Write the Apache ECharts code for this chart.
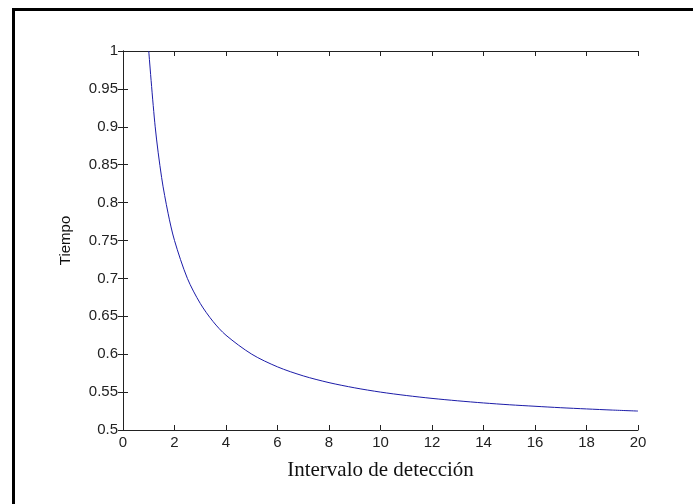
<!DOCTYPE html>
<html>
<head>
<meta charset="utf-8">
<script src="https://cdn.jsdelivr.net/npm/echarts@6/dist/echarts.min.js"></script>
<style>
    body { margin: 0; background: #fff; }
    #wrap { position: relative; width: 693px; height: 504px; }
    #chart { width: 693px; height: 504px; }
    #frame {
        position: absolute; left: 12px; top: 8px; right: 0; bottom: 0;
        border-left: 3px solid #000; border-top: 3px solid #000;
        pointer-events: none;
    }
</style>
</head>
<body>
<div id="wrap">
    <div id="chart"></div>
    <div id="frame"></div>
</div>
<script>
// 横轴：检测间隔
const intervalo = [1, 1.25, 1.5, 1.75, 2, 2.5, 3, 3.5, 4, 5, 6, 7, 8, 9, 10,
    11, 12, 13, 14, 15, 16, 17, 18, 19, 20];
// 纵轴：时间
const tiempo = [1.0, 0.90, 0.833, 0.786, 0.75, 0.70, 0.667, 0.643, 0.625, 0.60, 0.5833,
    0.5714, 0.5625, 0.5556, 0.55, 0.5455, 0.5417, 0.5385, 0.5357, 0.5333, 0.5313,
    0.5294, 0.5278, 0.5263, 0.525];

const xTitle = 'Intervalo de detección';
const yTitle = 'Tiempo';

const chart = echarts.init(document.getElementById('chart'));

const lineStyle = { color: '#222', width: 1 };
const labelFont = { fontFamily: 'Liberation Sans, Arial, sans-serif', fontSize: 15, color: '#222' };

const option = {
    animation: false,
    backgroundColor: '#fff',
    grid: { left: 123, top: 51, width: 515, height: 379 },
    xAxis: [{
        type: 'value', min: 0, max: 20, interval: 2,
        name: xTitle, nameLocation: 'middle', nameGap: 30,
        nameTextStyle: { fontFamily: 'Liberation Serif, Times New Roman, serif', fontSize: 21, color: '#111' },
        axisLine: { lineStyle: lineStyle },
        axisTick: { inside: true, length: 5, lineStyle: lineStyle },
        axisLabel: Object.assign({ margin: 5 }, labelFont),
        splitLine: { show: false }
    }, {
        type: 'value', min: 0, max: 20, interval: 2, position: 'top',
        axisLine: { lineStyle: lineStyle },
        axisTick: { inside: true, length: 5, lineStyle: lineStyle },
        axisLabel: { show: false },
        splitLine: { show: false }
    }],
    yAxis: [{
        type: 'value', min: 0.5, max: 1, interval: 0.05,
        name: yTitle, nameLocation: 'middle', nameGap: 50, nameRotate: 90,
        nameTextStyle: { fontFamily: 'Liberation Sans, Arial, sans-serif', fontSize: 15, color: '#111' },
        axisLine: { show: true, lineStyle: lineStyle },
        axisTick: { show: true, inside: true, length: 5, lineStyle: lineStyle },
        axisLabel: Object.assign({
            margin: 5,
            formatter: v => String(+v.toFixed(2))
        }, labelFont),
        splitLine: { show: false }
    }, {
        type: 'value', min: 0.5, max: 1, interval: 0.05, position: 'right',
        axisLine: { show: true, lineStyle: lineStyle },
        axisTick: { show: true, inside: true, length: 5, lineStyle: lineStyle },
        axisLabel: { show: false },
        splitLine: { show: false }
    }],
    series: [{
        type: 'line',
        data: intervalo.map((x, i) => [x, tiempo[i]]),
        smooth: 0.3,
        showSymbol: false,
        clip: true,
        lineStyle: { color: '#1c1ca8', width: 1 }
    }]
};

chart.setOption(option);
</script>
</body>
</html>
